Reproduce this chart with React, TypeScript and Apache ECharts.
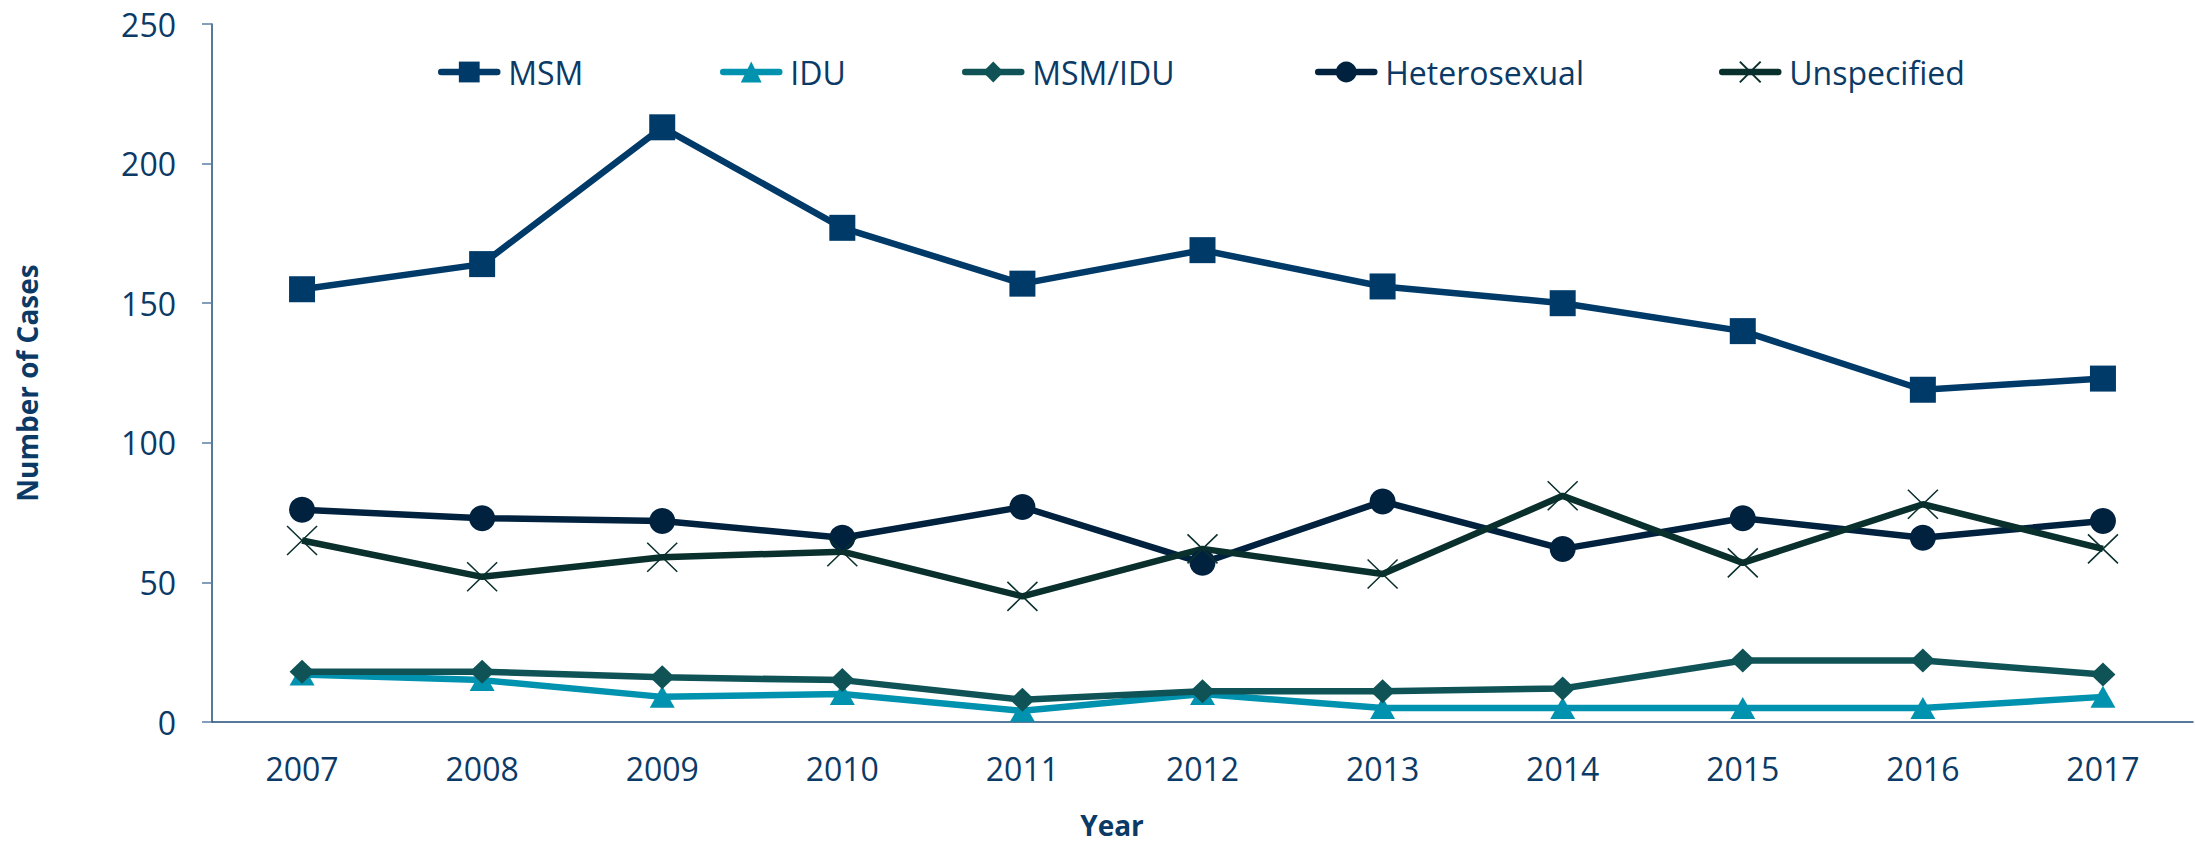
import React, { useEffect, useRef } from "react";
import * as echarts from "echarts";

const years = ["2007", "2008", "2009", "2010", "2011", "2012", "2013", "2014", "2015", "2016", "2017"];
const msm = [155, 164, 213, 177, 157, 169, 156, 150, 140, 119, 123];
const idu = [17, 15, 9, 10, 4, 10, 5, 5, 5, 5, 9];
const msmIdu = [18, 18, 16, 15, 8, 11, 11, 12, 22, 22, 17];
const hetero = [76, 73, 72, 66, 77, 57, 79, 62, 73, 66, 72];
const unspecified = [65, 52, 59, 61, 45, 62, 53, 81, 57, 78, 62];
const yTicks = { min: 0, max: 250, interval: 50 };

const FONT = "'Open Sans', sans-serif";
const TEXT = "#0B3A66";

export default function App() {
  const ref = useRef<HTMLDivElement>(null);
  useEffect(() => {
    if (!ref.current) return;
    const chart = echarts.init(ref.current, null, { renderer: "svg" });
    const mk = (name: string, data: number[], color: string, symbol: string, symbolSize: any, extra: any = {}) => ({
      name,
      type: "line",
      data,
      symbol,
      symbolSize,
      lineStyle: { color, width: 6.5 },
      itemStyle: { color, ...(extra.itemStyle || {}) },
      emphasis: { disabled: true },
    });
    const legendPos: [string, number][] = [
      ["MSM", 438],
      ["IDU", 720],
      ["MSM/IDU", 962],
      ["Heterosexual", 1315],
      ["Unspecified", 1719],
    ];
    chart.setOption({
      animation: false,
      backgroundColor: "#ffffff",
      textStyle: { fontFamily: FONT },
      grid: { left: 212, top: 24, right: 2, bottom: 125 },
      legend: legendPos.map(([n, x]) => ({
        data: [n],
        left: x,
        top: 56,
        padding: 0,
        itemWidth: 56,
        itemHeight: 26,
        textStyle: { fontFamily: FONT, fontSize: 32, color: TEXT, padding: [0, 0, 0, 6] },
        lineStyle: { width: 6.5, cap: "round" },
      })),
      xAxis: {
        type: "category",
        data: years,
        boundaryGap: true,
        axisLine: { lineStyle: { color: "#1F4E79", width: 1.5 } },
        axisTick: { show: false },
        axisLabel: { fontFamily: FONT, fontSize: 32, color: TEXT, margin: 30 },
      },
      yAxis: {
        type: "value",
        min: yTicks.min,
        max: yTicks.max,
        interval: yTicks.interval,
        splitLine: { show: false },
        axisLine: { show: true, lineStyle: { color: "#1F4E79", width: 1.5 } },
        axisTick: { show: true, length: 10, lineStyle: { color: "#5A7FA6", width: 1.5 } },
        axisLabel: { fontFamily: FONT, fontSize: 32, color: TEXT, margin: 36 },
      },
      graphic: [
        {
          type: "text",
          x: 27,
          y: 383,
          rotation: Math.PI / 2,
          style: {
            text: "Number of Cases",
            fontFamily: FONT,
            fontSize: 28,
            fontWeight: "bold",
            fill: TEXT,
            align: "center",
            verticalAlign: "middle",
          },
        },
        {
          type: "text",
          x: 1112,
          y: 825,
          style: {
            text: "Year",
            fontFamily: FONT,
            fontSize: 28,
            fontWeight: "bold",
            fill: TEXT,
            align: "center",
            verticalAlign: "middle",
          },
        },
      ],
      series: [
        mk("MSM", msm, "#003A68", "rect", [26, 26]),
        mk("IDU", idu, "#0092AE", "triangle", [25, 22]),
        mk("MSM/IDU", msmIdu, "#0F5357", "diamond", [25, 24]),
        mk("Heterosexual", hetero, "#00223F", "circle", 26),
        mk("Unspecified", unspecified, "#0A302D", "path://M0 0L20 20M20 0L0 20", [30, 29], {
          itemStyle: { borderColor: "#0A302D", borderWidth: 1.5 },
        }),
      ],
    });
    return () => chart.dispose();
  }, []);
  return (
    <div
      ref={ref}
      style={{ position: "absolute", left: 0, top: 0, width: 2195, height: 847 }}
    />
  );
}
